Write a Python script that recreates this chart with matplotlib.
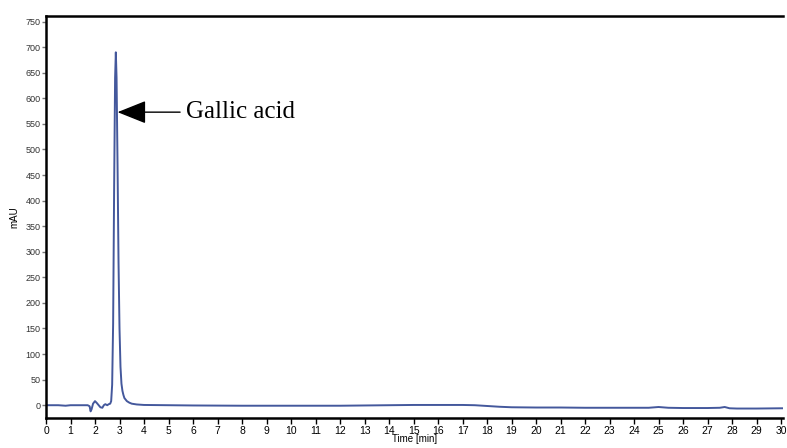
import matplotlib
matplotlib.use("Agg")
import matplotlib.pyplot as plt

# Chromatogram
time_min = [0.0, 0.5, 0.8, 1.0, 1.5, 1.7, 1.78, 1.82, 1.86, 1.92, 2.0, 2.08, 2.15, 2.22, 2.3, 2.36,
            2.42, 2.5, 2.56, 2.62, 2.66, 2.7, 2.74, 2.78, 2.82, 2.85, 2.88, 2.92, 2.96, 3.0,
            3.04, 3.08, 3.12, 3.16, 3.2, 3.3, 3.4, 3.5, 3.7, 4.0, 5.0, 6.0, 8.0, 10.0, 12.0,
            13.0, 14.0, 15.0, 16.0, 17.0, 17.5, 18.0, 18.5, 19.0, 20.0, 21.0, 22.0, 23.0,
            24.0, 24.6, 25.0, 25.4, 26.0, 27.0, 27.5, 27.7, 27.9, 28.2, 29.0, 30.0, 30.1]
mau = [0.0, 0.0, -1.0, 0.0, 0.0, 0.0, -2.0, -12.0, -8.0, 3.0, 8.0, 4.0, 0.0, -4.0, -5.0, 0.0,
       2.0, 0.0, 2.0, 3.0, 8.0, 40.0, 160.0, 420.0, 640.0, 690.0, 640.0, 470.0, 280.0, 150.0,
       75.0, 42.0, 28.0, 20.0, 14.0, 8.0, 5.0, 3.0, 1.5, 0.5, 0.0, -0.5, -1.0, -1.0, -1.0,
       -0.5, 0.0, 0.5, 0.5, 0.5, 0.0, -1.5, -3.0, -4.0, -4.5, -4.5, -5.0, -5.0,
       -5.0, -5.0, -3.5, -5.0, -5.5, -5.5, -5.0, -3.5, -6.0, -6.5, -6.5, -6.0, -6.0]

x_ticks = list(range(0, 31))
y_ticks = list(range(0, 751, 50))
peak_label = "Gallic acid"
label_at = (2.92, 573)

fig = plt.figure(figsize=(7.87, 4.48), dpi=100)
ax = fig.add_axes([46/787, 30/448, 737/787, (418-16)/448])
ax.plot(time_min, mau, color="#44589c", lw=1.4, solid_joinstyle="round")
ax.set_xlim(0, 30.08)
ax.set_ylim(-25, 761)

ax.set_xticks(x_ticks)
ax.set_yticks(y_ticks)
ax.tick_params(axis="x", direction="out", length=4, width=1, labelsize=7.5, pad=1.5, colors="black")
ax.tick_params(axis="y", direction="out", length=3, width=1, labelsize=6.5, pad=1,
               colors="#777777", labelcolor="#333333")
for lbl in ax.get_xticklabels() + ax.get_yticklabels():
    lbl.set_fontfamily("Liberation Sans")
ax.spines["right"].set_visible(False)
for s in ["left", "bottom", "top"]:
    ax.spines[s].set_linewidth(1.8)
ax.set_xlabel("Time [min]", fontsize=7, family="Liberation Sans", labelpad=-1)
ax.set_ylabel("mAU", fontsize=7, family="Liberation Sans", labelpad=4)

ax.annotate(peak_label, xy=label_at, xytext=(5.7, 573), fontsize=18, family="Liberation Serif",
            va="center", ha="left",
            arrowprops=dict(arrowstyle="-|>,head_length=1.0,head_width=0.4", color="black", lw=1,
                            shrinkA=2, shrinkB=0))

fig.savefig("out.png", dpi=100)
